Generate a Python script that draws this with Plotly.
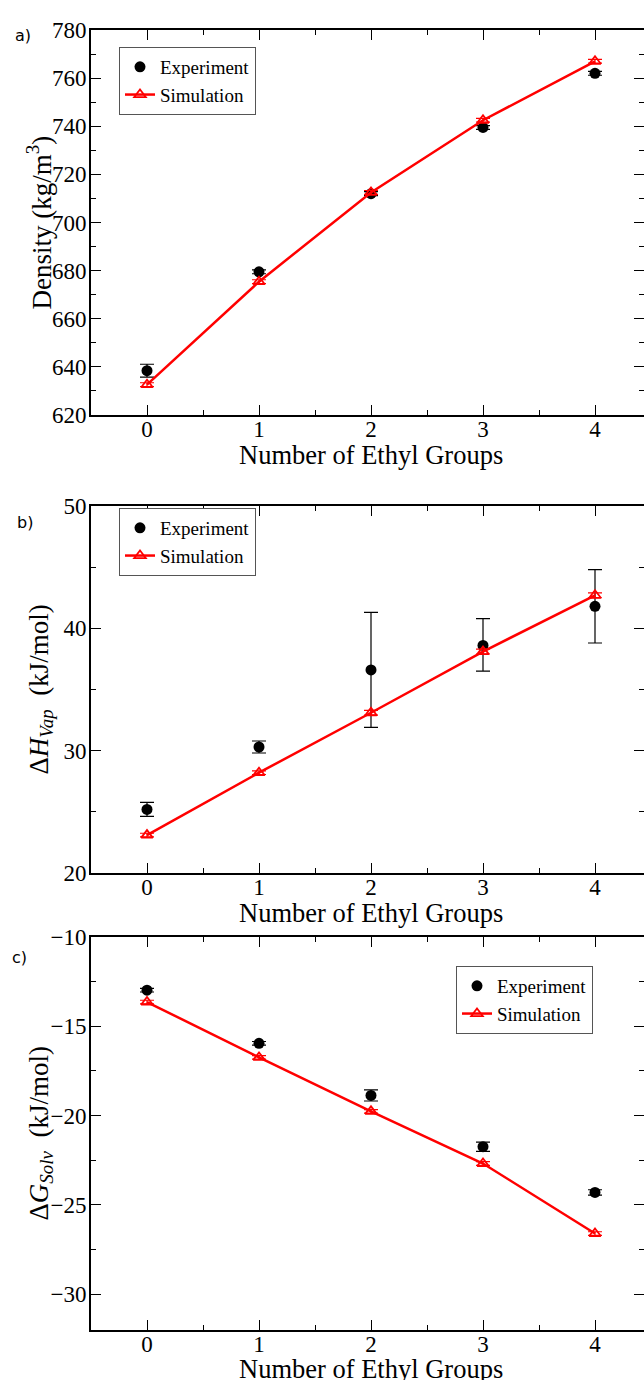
import plotly.graph_objects as go

# ---------------- data ----------------
ethyl_groups = [0, 1, 2, 3, 4]

density_exp = [638.4, 679.5, 712.0, 739.5, 762.0]
density_exp_err = [2.7, 0.8, 0.8, 0.8, 0.8]
density_sim = [632.6, 675.4, 712.5, 742.5, 767.0]
density_sim_err = [0.8, 0.8, 0.8, 0.8, 0.8]

hvap_exp = [25.2, 30.3, 36.6, 38.6, 41.8]
hvap_exp_err_plus = [0.57, 0.49, 4.7, 2.2, 3.0]
hvap_exp_err_minus = [0.57, 0.49, 4.7, 2.1, 3.0]
hvap_sim = [23.1, 28.2, 33.1, 38.1, 42.7]
hvap_sim_err = [0.15, 0.15, 0.2, 0.2, 0.2]

gsolv_exp = [-12.98, -15.95, -18.87, -21.74, -24.3]
gsolv_exp_err = [0.1, 0.1, 0.31, 0.26, 0.15]
gsolv_sim = [-13.64, -16.74, -19.76, -22.68, -26.6]
gsolv_sim_err = [0.1, 0.1, 0.1, 0.1, 0.1]

panel_labels = ["a)", "b)", "c)"]
x_title = "Number of Ethyl Groups"
y_titles = ["Density (kg/m<sup>3</sup>)",
            "Δ<i>H</i><sub><i>Vap</i></sub>  (kJ/mol)",
            "Δ<i>G</i><sub><i>Solv</i></sub>  (kJ/mol)"]

# ---------------- layout geometry ----------------
W, H = 644, 1380
ML = 91
PW = W - ML

def py(px):
    return 1 - px / H

def pxx(px):
    return (px - ML) / PW

panels = [
    dict(top=30, bottom=415, yr=[620, 780], dt=20, mdt=10, legx=119, legy=47,
         lab=(23, 36), xt=455),
    dict(top=506, bottom=873, yr=[20, 50], dt=10, mdt=5, legx=119, legy=508,
         lab=(25, 522), xt=913),
    dict(top=937, bottom=1330, yr=[-32, -10], dt=5, mdt=2.5, legx=456, legy=966,
         lab=(19, 957), xt=1369),
]

SERIF = "Liberation Serif, Times New Roman, serif"
SANS = "DejaVu Sans, Verdana, sans-serif"
RED = "#ff0000"

fig = go.Figure()

series = [
    (density_exp, dict(type="data", array=density_exp_err), density_sim, density_sim_err),
    (hvap_exp, dict(type="data", array=hvap_exp_err_plus, arrayminus=hvap_exp_err_minus), hvap_sim, hvap_sim_err),
    (gsolv_exp, dict(type="data", array=gsolv_exp_err), gsolv_sim, gsolv_sim_err),
]

for i, (exp, experr, sim, simerr) in enumerate(series):
    sfx = "" if i == 0 else str(i + 1)
    leg = "legend" if i == 0 else f"legend{i + 1}"
    fig.add_trace(go.Scatter(
        x=ethyl_groups, y=exp, mode="markers", name="Experiment",
        marker=dict(symbol="circle", size=11, color="black"),
        error_y=dict(**experr, color="black", thickness=1.2, width=7),
        xaxis="x" + sfx, yaxis="y" + sfx, legend=leg,
    ))
    fig.add_trace(go.Scatter(
        x=ethyl_groups, y=sim, mode="lines+markers", name="Simulation",
        line=dict(color=RED, width=2.5),
        marker=dict(symbol="triangle-up-open", size=10, color=RED, line=dict(width=1.8, color=RED)),
        error_y=dict(type="data", array=simerr, color=RED, thickness=1.2, width=7),
        xaxis="x" + sfx, yaxis="y" + sfx, legend=leg,
    ))

axis_common = dict(
    showline=True, linewidth=2, linecolor="black", mirror="ticks",
    ticks="inside", ticklen=10, tickwidth=1.3, tickcolor="black",
    showgrid=False, zeroline=False, automargin=False,
    tickfont=dict(family=SERIF, size=23, color="black"),
)

layout = dict(
    width=W, height=H,
    margin=dict(l=ML, r=0, t=0, b=0, autoexpand=False),
    paper_bgcolor="white", plot_bgcolor="white",
    showlegend=True,
)

annotations = []
for i, p in enumerate(panels):
    sfx = "" if i == 0 else str(i + 1)
    layout["xaxis" + sfx] = dict(
        axis_common, range=[-0.5, -0.5 + PW / 112.0], dtick=1, tick0=0,
        anchor="y" + sfx, ticklabelstandoff=-8,
        minor=dict(ticks="inside", ticklen=5, dtick=0.5, tick0=0, tickcolor="black", tickwidth=1.3),
    )
    layout["yaxis" + sfx] = dict(
        axis_common, range=p["yr"], dtick=p["dt"], tick0=0,
        domain=[py(p["bottom"]), py(p["top"])], anchor="x" + sfx,
        ticklabelstandoff=-2,
        minor=dict(ticks="inside", ticklen=5, dtick=p["mdt"], tick0=0, tickcolor="black", tickwidth=1.3),
    )
    leg = "legend" if i == 0 else f"legend{i + 1}"
    layout[leg] = dict(
        x=pxx(p["legx"]), y=py(p["legy"]), xanchor="left", yanchor="top",
        bordercolor="#555555", borderwidth=1, bgcolor="white",
        font=dict(family=SERIF, size=19, color="black"),
        tracegroupgap=0, itemwidth=30,
    )
    annotations.append(dict(
        text=x_title, xref="paper", yref="paper",
        x=pxx(371), y=py(p["xt"]), xanchor="center", yanchor="middle",
        showarrow=False, font=dict(family=SERIF, size=26.5, color="black"),
    ))
    annotations.append(dict(
        text=y_titles[i], xref="paper", yref="paper", textangle=-90,
        x=pxx(40), y=py((p["top"] + p["bottom"]) / 2), xanchor="center", yanchor="middle",
        showarrow=False, font=dict(family=SERIF, size=27, color="black"),
    ))
    annotations.append(dict(
        text=panel_labels[i], xref="paper", yref="paper",
        x=pxx(p["lab"][0]), y=py(p["lab"][1]), xanchor="center", yanchor="middle",
        showarrow=False, font=dict(family=SANS, size=16, color="black"),
    ))

layout["annotations"] = annotations
fig.update_layout(**layout)

fig.write_html("out.html")
